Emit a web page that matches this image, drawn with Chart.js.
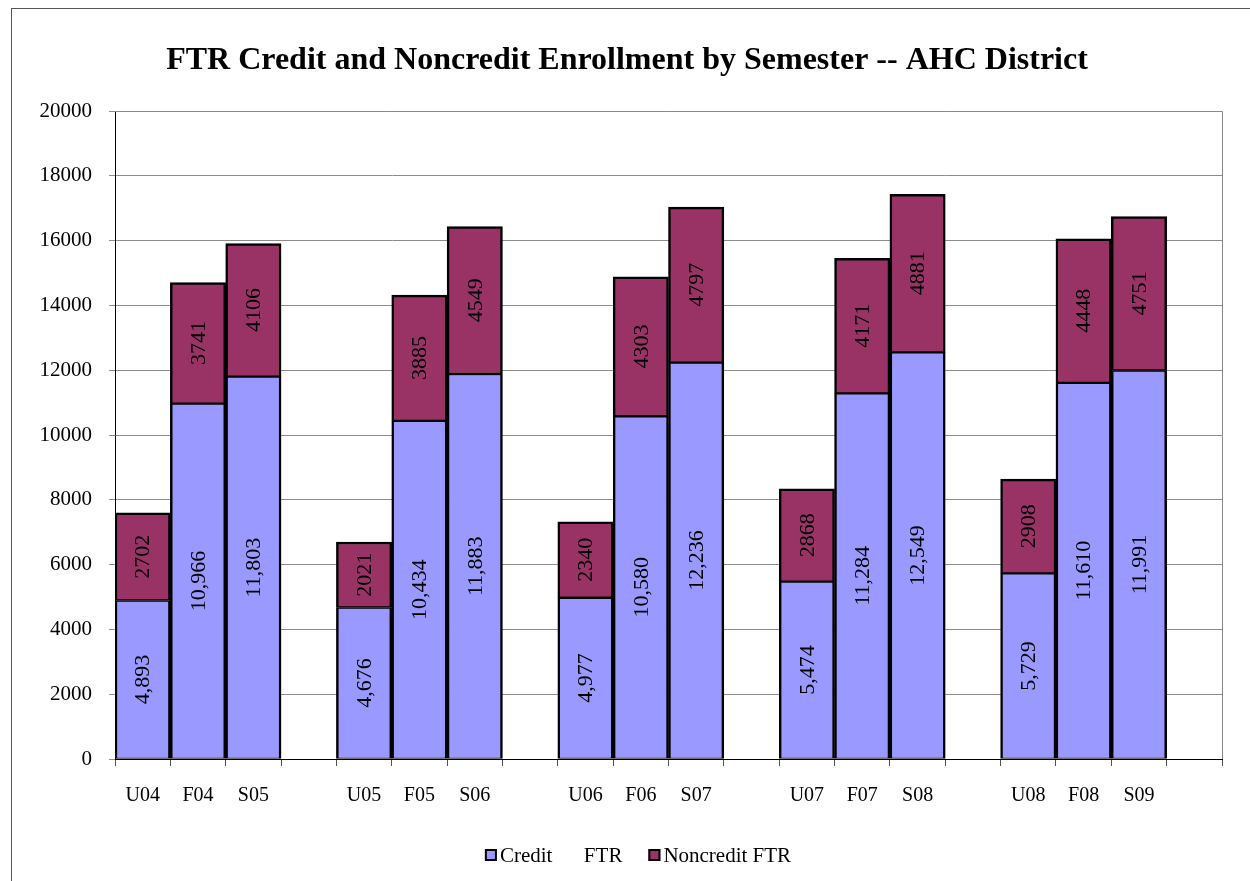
<!DOCTYPE html>
<html>
<head>
<meta charset="utf-8">
<script src="https://cdn.jsdelivr.net/npm/chart.js@4/dist/chart.umd.min.js"></script>
<style>
  html, body { margin: 0; padding: 0; background: #fff; }
  #wrap { position: relative; width: 1250px; height: 881px; overflow: hidden; background: #fff; }
  #frame { position: absolute; left: 11px; top: 8px; width: 1400px; height: 1000px; border: 1px solid #555; box-sizing: border-box; }
  #c { position: absolute; left: 0; top: 0; }
</style>
</head>
<body>
<div id="wrap">
  <div id="frame"></div>
  <canvas id="c" width="1250" height="881"></canvas>
</div>
<script>
const categories = ['U04','F04','S05','', 'U05','F05','S06','', 'U06','F06','S07','', 'U07','F07','S08','', 'U08','F08','S09',''];
const creditFTR = [4893, 10966, 11803, null, 4676, 10434, 11883, null, 4977, 10580, 12236, null, 5474, 11284, 12549, null, 5729, 11610, 11991, null];
const noncreditFTR = [2702, 3741, 4106, null, 2021, 3885, 4549, null, 2340, 4303, 4797, null, 2868, 4171, 4881, null, 2908, 4448, 4751, null];
const yTicks = [0, 2000, 4000, 6000, 8000, 10000, 12000, 14000, 16000, 18000, 20000];
const seriesNames = ['Credit      FTR', 'Noncredit FTR'];

const FONT = '"Liberation Serif", "Times New Roman", serif';

const labelPlugin = {
  id: 'barLabels',
  afterDatasetsDraw(chart) {
    const ctx = chart.ctx;
    ctx.save();
    ctx.font = '22px ' + FONT;
    ctx.fillStyle = '#000';
    ctx.textAlign = 'center';
    ctx.textBaseline = 'middle';
    chart.data.datasets.forEach((ds, di) => {
      const meta = chart.getDatasetMeta(di);
      meta.data.forEach((bar, i) => {
        const v = ds.data[i];
        if (v == null) return;
        const cy = (bar.y + bar.base) / 2;
        const txt = di === 0 ? v.toLocaleString('en-US') : String(v);
        ctx.save();
        ctx.translate(bar.x, cy);
        ctx.rotate(-Math.PI / 2);
        ctx.fillText(txt, 0, 1);
        ctx.restore();
      });
    });
    ctx.restore();
  }
};

const borderPlugin = {
  id: 'plotBorder',
  afterDraw(chart) {
    const a = chart.chartArea;
    const ctx = chart.ctx;
    ctx.save();
    ctx.strokeStyle = '#888';
    ctx.lineWidth = 1;
    ctx.beginPath();
    ctx.moveTo(a.left, a.top + 0.5);
    ctx.lineTo(Math.round(a.right) + 0.5, a.top + 0.5);
    ctx.lineTo(Math.round(a.right) + 0.5, a.bottom);
    ctx.stroke();
    ctx.restore();
  }
};

const legendPlugin = {
  id: 'customLegend',
  afterDraw(chart) {
    const ctx = chart.ctx;
    ctx.save();
    ctx.font = '21px ' + FONT;
    ctx.textBaseline = 'middle';
    ctx.textAlign = 'left';
    const box = 12, gapText = 3, gapItem = 26, cy = 855;
    const widths = chart.data.datasets.map(ds => box + gapText + ctx.measureText(ds.label).width);
    const total = widths.reduce((a, b) => a + b, 0) + gapItem * (widths.length - 1);
    let x = 638 - total / 2;
    chart.data.datasets.forEach((ds, i) => {
      ctx.fillStyle = ds.backgroundColor;
      ctx.fillRect(x, cy - box / 2, box, box);
      ctx.strokeStyle = '#000';
      ctx.lineWidth = 2;
      ctx.strokeRect(x + 1, cy - box / 2 + 1, box - 2, box - 2);
      ctx.fillStyle = '#000';
      ctx.fillText(ds.label, x + box + gapText, cy + 1);
      x += widths[i] + gapItem;
    });
    ctx.restore();
  }
};

new Chart(document.getElementById('c'), {
  type: 'bar',
  data: {
    labels: categories,
    datasets: [
      { label: seriesNames[0], data: creditFTR, backgroundColor: '#9999FF', borderColor: '#000',
        borderWidth: { top: 1.5, left: 2.5, right: 2.5, bottom: 1 }, borderSkipped: false, categoryPercentage: 1, barPercentage: 1 },
      { label: seriesNames[1], data: noncreditFTR, backgroundColor: '#993366', borderColor: '#000',
        borderWidth: { top: 2.5, left: 2.5, right: 2.5, bottom: 1.5 }, borderSkipped: false, categoryPercentage: 1, barPercentage: 1 }
    ]
  },
  options: {
    responsive: false,
    animation: false,
    layout: { padding: { left: 32, right: 28, top: 0, bottom: 55 } },
    plugins: {
      title: {
        display: true,
        text: 'FTR Credit and Noncredit Enrollment by Semester -- AHC District',
        color: '#000',
        font: { family: FONT, size: 32, weight: 'bold' },
        padding: { top: 42, bottom: 30.6 }
      },
      legend: { display: false },
      tooltip: { enabled: false }
    },
    scales: {
      x: {
        stacked: true,
        grid: { display: true, drawOnChartArea: false, drawTicks: true, tickLength: 7, color: '#555', offset: true },
        border: { display: true, color: '#000', width: 1 },
        ticks: { color: '#000', font: { family: FONT, size: 20 }, autoSkip: false, maxRotation: 0, padding: 18 }
      },
      y: {
        stacked: true,
        min: 0, max: 20000,
        afterBuildTicks(scale) { scale.ticks = yTicks.map(v => ({ value: v })); },
        afterFit(scale) { scale.width = 83; },
        grid: { color: '#8c8c8c', tickLength: 6, drawTicks: true },
        border: { display: true, color: '#000', width: 1 },
        ticks: { color: '#000', font: { family: FONT, size: 21 }, padding: 17, callback: v => String(v) }
      }
    }
  },
  plugins: [labelPlugin, borderPlugin, legendPlugin]
});
</script>
</body>
</html>
